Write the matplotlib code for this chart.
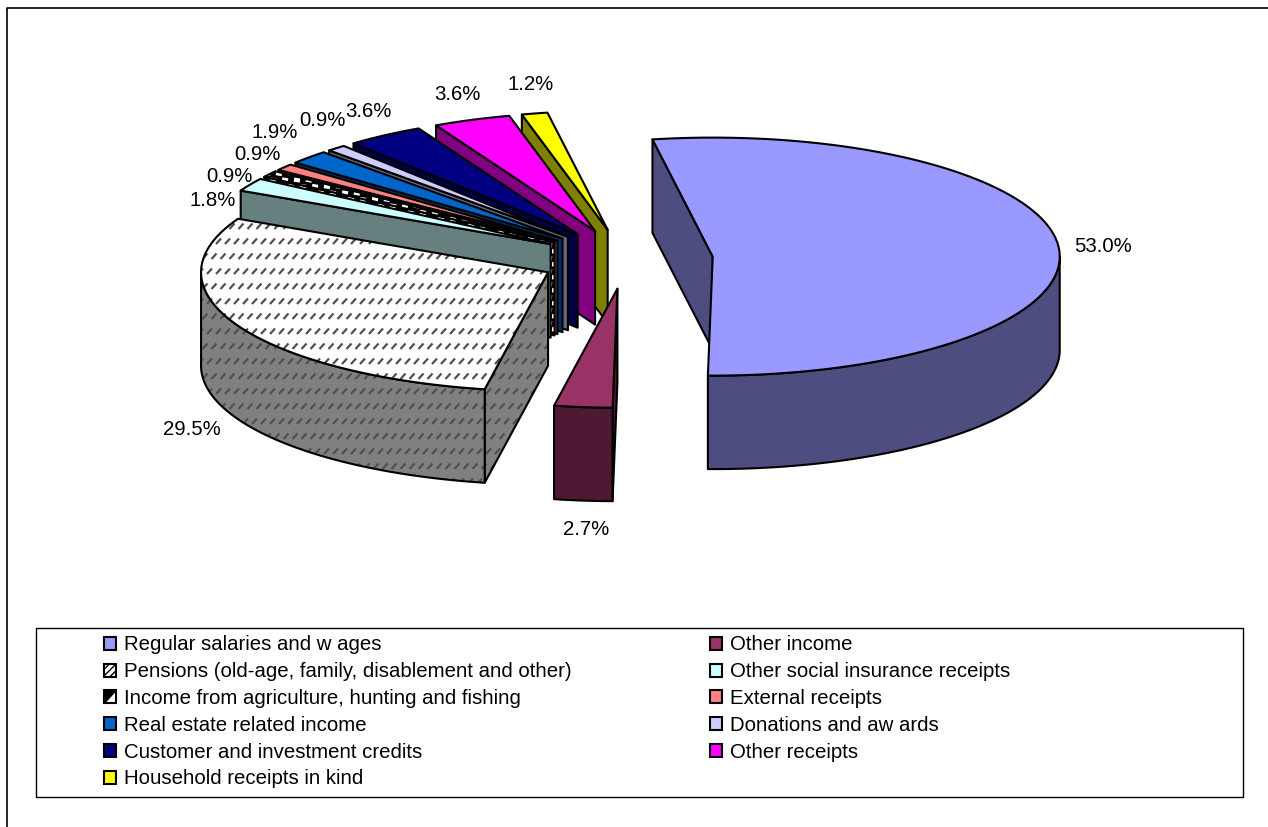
import numpy as np
import matplotlib
matplotlib.use("Agg")
import matplotlib.pyplot as plt
from matplotlib.collections import LineCollection
from matplotlib.patches import Patch, Polygon, Rectangle
from matplotlib.legend_handler import HandlerPatch

plt.rcParams['font.family'] = ['Liberation Sans', 'DejaVu Sans']

categories = ["Regular salaries and w ages", "Other income",
              "Pensions (old-age, family, disablement and other)",
              "Other social insurance receipts",
              "Income from agriculture, hunting and fishing", "External receipts",
              "Real estate related income", "Donations and aw ards",
              "Customer and investment credits", "Other receipts",
              "Household receipts in kind"]
shares = [53.0, 2.7, 29.5, 1.8, 0.9, 0.9, 1.9, 0.9, 3.6, 3.6, 1.2]

top_colors = ["#9999FF", "#993366", "#FFFFFF", "#CCFFFF", "#000000", "#FF8080",
              "#0066CC", "#CCCCFF", "#000080", "#FF00FF", "#FFFF00"]
side_colors = ["#4D4D80", "#4D1933", "#808080", "#668080", "#000000", "#804040",
               "#003366", "#666680", "#000040", "#800080", "#808000"]

# pie geometry, in pixels of the picture
CX, CY = 626, 259
RX, RY = 347, 119
DEPTH = 93.5
EXPLODE = 87
START = 350

# label offset from the rim of each slice
label_dx = [44, 3, -45, -37, -40, -27, -34, -14, -16, -15, -4]
label_dy = [-1, 29, 11, 16, 2, -13, -25, -28, -24, -25, -29]


def rim(apex, angle):
    a = np.radians(angle)
    return apex[0] + RX * np.sin(a), apex[1] - RY * np.cos(a)


def arc(apex, a0, a1):
    steps = max(int(abs(a1 - a0)) * 2, 2)
    return [rim(apex, a) for a in np.linspace(a0, a1, steps)]


def add_dashes(ax, patch, color, xstep, ystep, dx, dy, lw):
    # hatch drawn as short strokes clipped by the face
    x0, y0 = patch.get_xy().min(axis=0)
    x1, y1 = patch.get_xy().max(axis=0)
    segs = []
    x_grid = np.arange(0, 1268, xstep)
    for row, y in enumerate(np.arange(4, 827, ystep)):
        if y < y0 - ystep or y > y1 + ystep:
            continue
        for x in x_grid + (row % 2) * xstep / 2:
            if x0 - xstep < x < x1 + xstep:
                segs.append([(x, y), (x + dx, y + dy)])
    lines = LineCollection(segs, colors=color, linewidths=lw, zorder=patch.get_zorder())
    ax.add_collection(lines)
    lines.set_clip_path(patch)


def face(ax, pts, color, z, style=None):
    poly = Polygon(pts, closed=True, facecolor=color, edgecolor="none", zorder=z)
    ax.add_patch(poly)
    if style == "hatch":
        add_dashes(ax, poly, "#505050", 9, 15, 5, -5.5, 1.6)
    elif style == "check":
        add_dashes(ax, poly, "white", 12, 6.5, 6, 1, 3.2)
    ax.add_patch(Polygon(pts, closed=True, facecolor="none", edgecolor="black",
                         linewidth=1.5, joinstyle="round", zorder=z))


fig = plt.figure(figsize=(12.68, 8.27), dpi=100)
ax = fig.add_axes([0, 0, 1, 1])
ax.set_xlim(0, 1268)
ax.set_ylim(827, 0)
ax.axis("off")

# chart frame, running off the right and bottom of the picture
ax.plot([7, 7, 1268], [827, 8, 8], color="black", lw=1.2, zorder=1)

fractions = np.array(shares) / sum(shares)
ends = START + np.cumsum(fractions) * 360
starts = ends - fractions * 360
mids = (starts + ends) / 2
apexes = [(CX + EXPLODE * np.sin(np.radians(m)),
           CY - EXPLODE * RY / RX * np.cos(np.radians(m))) for m in mids]

# back slices first, so that nearer ones cover them
for i in range(len(shares) - 1, -1, -1):
    a0, a1 = starts[i], ends[i]
    apex = apexes[i]
    z = 10 + (len(shares) - i) * 3
    style = {2: "hatch", 4: "check"}.get(i)

    if np.sin(np.radians(a0)) < 0:
        p = rim(apex, a0)
        wall = [apex, p, (p[0], p[1] + DEPTH), (apex[0], apex[1] + DEPTH)]
        face(ax, wall, side_colors[i], z, style)

    # outer wall shows only on the near half of the ellipse
    for turn in (0, 360):
        lo, hi = max(a0, 90 + turn), min(a1, 270 + turn)
        if lo < hi:
            curve = arc(apex, lo, hi)
            wall = curve + [(x, y + DEPTH) for x, y in reversed(curve)]
            face(ax, wall, side_colors[i], z + 1, style)

    top = [apex] + arc(apex, a0, a1)
    face(ax, top, top_colors[i], z + 2, style)

    x, y = rim(apex, mids[i])
    if np.cos(np.radians(mids[i])) < 0:
        y += DEPTH
    ax.text(x + label_dx[i], y + label_dy[i], f"{shares[i]:.1f}%", fontsize=14.7,
            ha="center", va="center", color="black", zorder=80)

# legend
ax.add_patch(Rectangle((36, 628), 1207, 169, facecolor="white", edgecolor="black",
                       linewidth=1.0, zorder=2))


class SplitSquare(HandlerPatch):
    def create_artists(self, legend, orig, xd, yd, w, h, fontsize, trans):
        back = Rectangle((-xd, -yd), w, h, facecolor="white", edgecolor="black",
                         linewidth=1.5, transform=trans)
        tri = Polygon([(-xd, -yd), (-xd, h - yd), (w - xd, h - yd)], closed=True,
                      facecolor="black", edgecolor="black", linewidth=0.5, transform=trans)
        return [back, tri]


handles = []
for i in range(len(shares)):
    if i == 2:
        h = Patch(facecolor="white", edgecolor="black", lw=1.5, hatch="/////", label=categories[i])
    else:
        h = Patch(facecolor=top_colors[i], edgecolor="black", lw=1.5, label=categories[i])
    handles.append(h)

# legend fills row by row in the chart, matplotlib fills column by column
order = [0, 2, 4, 6, 8, 10, 1, 3, 5, 7, 9]
leg = ax.legend([handles[i] for i in order], [categories[i] for i in order],
                handler_map={handles[4]: SplitSquare()},
                ncol=2, loc="upper left", bbox_to_anchor=(104, 635.5),
                bbox_transform=ax.transData, frameon=False, fontsize=14.7,
                borderpad=0, borderaxespad=0, handlelength=0.6, handleheight=0.6,
                handletextpad=0.4, labelspacing=0.38, columnspacing=6.75)
leg.set_zorder(90)

fig.savefig("out.png", dpi=100)
